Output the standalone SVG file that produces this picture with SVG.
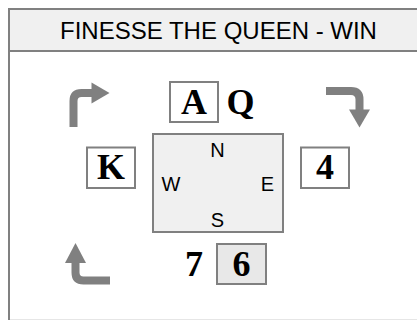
<svg xmlns="http://www.w3.org/2000/svg" width="417" height="320" viewBox="0 0 417 320">
<style>
.frame{fill:#ffffff;stroke:#808080;stroke-width:2}
.title{fill:#f0f0f0;stroke:#808080;stroke-width:2}
.ttl{font-family:"Liberation Sans",Arial,sans-serif;font-size:24px;fill:#000;text-anchor:middle}
.card{fill:#ffffff;stroke:#808080;stroke-width:2}
.played{fill:#e8e8e8;stroke:#808080;stroke-width:2}
.rank{font-family:"Liberation Serif","Times New Roman",serif;font-weight:bold;font-size:36px;fill:#000;text-anchor:middle}
.table{fill:#f0f0f0;stroke:#808080;stroke-width:2}
.dir{font-family:"Liberation Sans",Arial,sans-serif;font-size:20px;fill:#000;text-anchor:middle}
.arr{fill:none;stroke:#808080;stroke-width:8}
.head{fill:#808080}
</style>
<rect class="frame" x="9" y="9" width="417" height="311.8"/>
<g id="title">
<rect class="title" x="9" y="9" width="417" height="42"/>
<text class="ttl" x="218.5" y="38.5">FINESSE THE QUEEN - WIN</text>
</g>
<g id="table">
<rect class="table" x="153" y="134" width="130" height="98"/>
<text class="dir" x="217.5" y="156.5">N</text>
<text class="dir" x="171" y="190.5">W</text>
<text class="dir" x="267.5" y="190.5">E</text>
<text class="dir" x="217.5" y="227">S</text>
</g>
<g id="north">
<rect class="card" x="170" y="82" width="48" height="40"/>
<text class="rank" x="194" y="114">A</text>
<text class="rank" x="240.5" y="114">Q</text>
</g>
<g id="west">
<rect class="card" x="87" y="147.5" width="48" height="40.5"/>
<text class="rank" x="111" y="178.5">K</text>
</g>
<g id="east">
<rect class="card" x="301" y="147.5" width="48" height="40.5"/>
<text class="rank" x="325" y="179">4</text>
</g>
<g id="south">
<text class="rank" x="194" y="275.5">7</text>
<rect class="played" x="217" y="244" width="49" height="40"/>
<text class="rank" x="241.5" y="275.5">6</text>
</g>
<g id="connectors">
<path class="arr" d="M73.5,127 V101 Q73.5,93 81.5,93 H93"/>
<polygon class="head" points="91.5,82.5 109.5,93 91.5,103.5"/>
<path class="arr" d="M326,91 H351 Q359.5,91 359.5,99.5 V110.5"/>
<polygon class="head" points="349,109.5 370,109.5 359.5,127.5"/>
<path class="arr" d="M110,280.5 H83.5 Q75.5,280.5 75.5,272.5 V261.5"/>
<polygon class="head" points="65,263 86,263 75.5,243"/>
</g>
</svg>
